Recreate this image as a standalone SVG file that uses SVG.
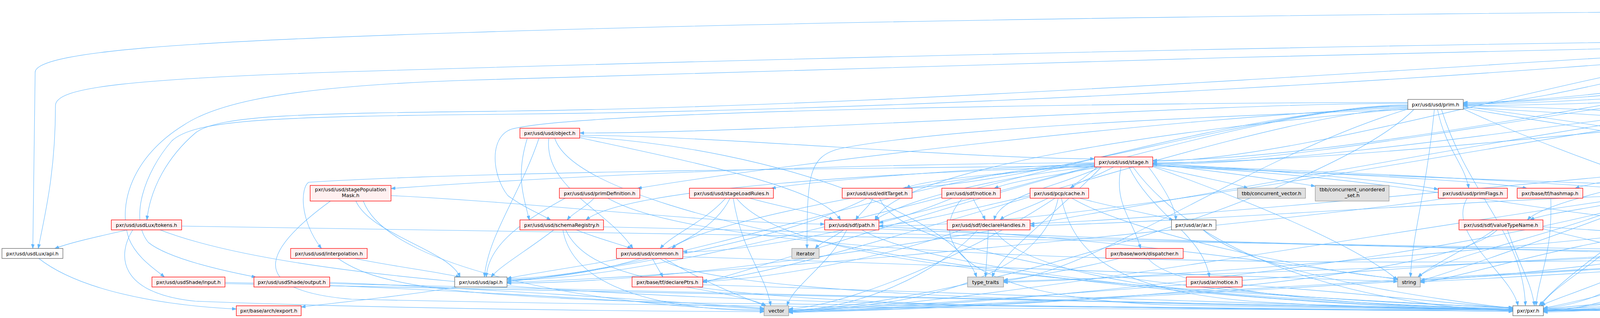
<svg xmlns="http://www.w3.org/2000/svg" width="6797" height="813" viewBox="0 0 6797 813">
<defs>
<marker id="a" viewBox="0 0 11 8" refX="11" refY="4" markerWidth="11" markerHeight="8" markerUnits="userSpaceOnUse" orient="auto"><path d="M0,0 L11,4 L0,8 z" fill="#63b8ff" stroke="#63b8ff" stroke-width="0.8"/></marker>
</defs>
<style>
.e{fill:none;stroke:#63b8ff;stroke-width:1.1;marker-end:url(#a)}
.r{fill:#fff0f0;stroke:#ff0000;stroke-width:1.3}
.w{fill:#ffffff;stroke:#666666;stroke-width:1.3}
.g{fill:#e0e0e0;stroke:#999999;stroke-width:1.3}
.root{fill:#999999;stroke:#666666;stroke-width:1.3}
text{font-family:"DejaVu Sans","Liberation Sans",sans-serif;font-size:12.8px;text-anchor:middle;fill:#000000}
</style>
<rect x="0" y="0" width="6797" height="813" fill="#ffffff"/>
<g id="edges">
<path class="e" d="M5763,30 C5544,30 5105,100 4886,100"/>
<path class="e" d="M5875,45.5 C5875,106 5967,106 5967,166.5"/>
<path class="e" d="M5763,20 C4500,26 2500,40 1200,83 C500,105 90,130 90,185 L84,635.5"/>
<path class="e" d="M5763,34 C5259,34 4250,262 3746,262"/>
<path class="e" d="M5763,38 C5060,38 3654,410 2951,410"/>
<path class="e" d="M5763,42 C5441,42 4798,571 4476,571"/>
<path class="e" d="M5930,45.5 C5930,304 6125,304 6125,562.5"/>
<path class="e" d="M5960,28 C6300,40 6650,70 6680,200 C6700,320 6500,600 6274,648"/>
<path class="e" d="M5960,32 C6400,45 6740,90 6740,250 C6740,500 6650,690 6215,721"/>
<path class="e" d="M5850,45.5 C5850,340 4965,340 4965,635.5"/>
<path class="e" d="M5763,44 C5401,44 4678,652 4316,652"/>
<path class="e" d="M5960,40 C6500,60 6790,100 6790,300 C6790,700 6700,740 6300,760 C5500,790 4500,794 3951,794"/>
<path class="e" d="M4691,102 C3500,112 2000,150 1000,180 C300,200 142,225 142,270 C142,450 112,560 98,635.5"/>
<path class="e" d="M4822,118.5 C4822,146 4975,146 4975,174"/>
<path class="e" d="M4875,118.5 C5000,135 5200,160 5310,174"/>
<path class="e" d="M4691,108 C4455,108 3982,268 3746,268"/>
<path class="e" d="M4691,110 C4256,110 3386,412 2951,412"/>
<path class="e" d="M4691,114 C3800,160 2400,270 1300,284 C800,290 560,292 500,340 C430,400 385,480 376,562.5"/>
<path class="e" d="M4691,111 C3600,130 2200,175 1200,205 C750,220 560,260 470,320 C340,400 300,520 330,610 C350,660 400,690 421,708.5"/>
<path class="e" d="M4691,116 C3900,190 2500,280 1300,292 C700,298 500,305 440,360 C370,440 330,560 380,620 C430,660 560,690 655,708.5"/>
<path class="e" d="M4765,118.5 C4700,250 4460,420 4440,562.5"/>
<path class="e" d="M4886,108 C5300,110 5700,115 5900,140 C6160,170 6180,250 6180,350 C6180,450 6140,500 6128,562.5"/>
<path class="e" d="M4886,111 C5600,115 6000,130 6100,230 C6200,330 6240,500 6240,635.5"/>
<path class="e" d="M4886,114 C5700,125 6300,140 6420,300 C6520,430 6500,650 6215,716"/>
<path class="e" d="M4800,118.5 C4800,377 4930,377 4930,635.5"/>
<path class="e" d="M4740,118.5 C4700,300 4300,450 4290,635.5"/>
<path class="e" d="M4760,118.5 C4600,350 4100,600 3940,781.5"/>
<path class="e" d="M5882,192 C5348,192 4280,270 3746,270"/>
<path class="e" d="M5882,196 C5149,196 3684,416 2951,416"/>
<path class="e" d="M5882,200 C5531,200 4827,578 4476,578"/>
<path class="e" d="M6000,206.5 C6000,385 6110,385 6110,562.5"/>
<path class="e" d="M6050,206.5 C6180,320 6260,450 6250,635.5"/>
<path class="e" d="M6075,206.5 C6350,300 6330,650 6215,726"/>
<path class="e" d="M5930,206.5 C5800,350 5100,500 4975,635.5"/>
<path class="e" d="M5900,206.5 C5600,350 4400,550 4305,635.5"/>
<path class="e" d="M5960,206.5 C5900,500 5000,700 3951,790"/>
<path class="e" d="M4908,184 C4617,184 4036,264 3746,264"/>
<path class="e" d="M4908,188 C4419,188 3440,418 2951,418"/>
<path class="e" d="M4950,199 C4800,350 4470,450 4460,562.5"/>
<path class="e" d="M5080,199 C5400,350 6000,450 6070,562.5"/>
<path class="e" d="M5100,199 C5500,380 6100,500 6150,635.5"/>
<path class="e" d="M5110,199 C5400,450 6000,650 6090,708.5"/>
<path class="e" d="M5017,199 C5017,450 4940,450 4940,635.5"/>
<path class="e" d="M4980,199 C4900,350 4350,500 4300,635.5"/>
<path class="e" d="M4990,199 C4800,500 4400,700 3951,788"/>
<path class="e" d="M5299,192 C4299,192 2298,724 1298,724"/>
<path class="e" d="M5299,184 C4911,184 4134,266 3746,266"/>
<path class="e" d="M5299,188 C4712,188 3538,420 2951,420"/>
<path class="e" d="M5330,199 C5100,400 4600,560 4476,582"/>
<path class="e" d="M5420,199 C5700,300 6050,450 6080,562.5"/>
<path class="e" d="M5440,199 C5800,350 6150,500 6170,635.5"/>
<path class="e" d="M5470,199 C5700,400 6050,650 6110,708.5"/>
<path class="e" d="M5350,199 C5300,450 5050,620 4985,645"/>
<path class="e" d="M5320,199 C5000,400 4400,600 4316,645"/>
<path class="e" d="M5299,196 C4537,196 3012,578 2250,578"/>
<path class="e" d="M5380,199 C5200,600 4500,780 3951,796"/>
<path class="e" d="M3672,279.5 C3650,500 3615,600 3611,708.5"/>
<path class="e" d="M3680,279.5 C3700,380 3750,420 3760,481.5"/>
<path class="e" d="M3604,272 C3028,272 1874,716 1298,716"/>
<path class="e" d="M3604,270 C3140,270 2212,644 1748,644"/>
<path class="e" d="M3604,268 C3287,268 2652,470 2310,481.5"/>
<path class="e" d="M3604,264 C3074,264 2014,340 1484,340"/>
<path class="e" d="M3604,262 C3000,262 1500,280 1310,330 C1250,350 1260,450 1300,500 C1340,530 1380,545 1410,562.5"/>
<path class="e" d="M3604,274 C3000,300 2000,420 1632,481.5"/>
<path class="e" d="M3746,276 C4000,320 4350,370 4460,401.5"/>
<path class="e" d="M3746,274 C4200,300 4700,330 4900,360 C4980,375 5030,390 5040,401.5"/>
<path class="e" d="M3604,276 C3200,290 2100,700 1799,718"/>
<path class="e" d="M3746,270 C4200,280 4600,310 4820,335"/>
<path class="e" d="M3746,278 C4000,400 4600,600 4840,644"/>
<path class="e" d="M3746,272 C4100,320 4500,380 4620,430 C4700,460 4740,475 4760,481.5"/>
<path class="e" d="M3604,278 C3000,330 2300,430 2240,562.5"/>
<path class="e" d="M3604,279 C3200,400 2800,700 2569,718"/>
<path class="e" d="M3620,279.5 C3400,500 2400,790 2019,792"/>
<path class="e" d="M3690,279.5 C3760,500 3900,600 3905,781.5"/>
<path class="e" d="M3604,280 C3000,300 2400,330 2150,380 C2070,400 2066,450 2066,635.5"/>
<path class="e" d="M1484,346 C1813,346 2472,406 2802,406"/>
<path class="e" d="M1380,353 C1330,500 1250,600 1240,708.5"/>
<path class="e" d="M1405,353 C1390,480 1560,540 1620,635.5"/>
<path class="e" d="M1350,353 C1320,450 1340,500 1355,562.5"/>
<path class="e" d="M1484,352 C1800,420 2100,480 2152,562.5"/>
<path class="e" d="M1484,349 C2000,380 2450,560 2500,708.5"/>
<path class="e" d="M1420,353 C1500,600 3000,780 3873,792"/>
<path class="e" d="M4900,353 C4850,600 4300,780 3951,792"/>
<path class="e" d="M2802,418 C2426,418 1674,712 1298,712"/>
<path class="e" d="M2802,420 C2500,440 1800,560 1720,635.5"/>
<path class="e" d="M2802,422 C2600,440 2350,460 2320,481.5"/>
<path class="e" d="M2802,424 C2000,432 1200,440 790,466 C770,480 765,560 823,635.5"/>
<path class="e" d="M2802,416 C2000,420 1300,460 1001,482"/>
<path class="e" d="M2802,426 C2300,440 1600,480 1500,562.5"/>
<path class="e" d="M2802,419 C2500,430 2100,460 1975,481.5"/>
<path class="e" d="M2951,418 C3200,430 3550,460 3682,484"/>
<path class="e" d="M2802,426 C2500,500 1900,700 1799,722"/>
<path class="e" d="M2951,421 C3300,440 3800,460 3909,481.5"/>
<path class="e" d="M2951,424 C3500,450 4400,480 4704,488"/>
<path class="e" d="M2940,426.5 C2980,480 3010,530 3010,562.5"/>
<path class="e" d="M2890,426.5 C2950,550 3080,600 3096,708.5"/>
<path class="e" d="M2820,426.5 C2700,480 2560,500 2545,562.5"/>
<path class="e" d="M2815,426.5 C2700,450 2600,460 2545,481.5"/>
<path class="e" d="M2802,425 C2500,460 2300,520 2240,562.5"/>
<path class="e" d="M2951,422 C3500,440 4000,470 4178,484"/>
<path class="e" d="M2851,426.5 C2810,450 2760,465 2740,481.5"/>
<path class="e" d="M2951,424 C3600,450 4000,560 4330,572"/>
<path class="e" d="M2870,426.5 C2850,520 2900,560 2920,635.5"/>
<path class="e" d="M2951,424 C3050,450 3150,465 3195,481.5"/>
<path class="e" d="M2951,420 C3150,440 3300,465 3367,476"/>
<path class="e" d="M2951,426 C3300,550 3500,650 3578,716"/>
<path class="e" d="M2820,426.5 C2700,550 2560,650 2540,708.5"/>
<path class="e" d="M2810,426.5 C2600,600 2200,780 2019,790"/>
<path class="e" d="M2900,426.5 C3100,700 3600,790 3873,794"/>
<path class="e" d="M4487,426.5 C4420,450 4320,465 4296,481.5"/>
<path class="e" d="M4450,422 C4200,460 3950,520 3910,562.5"/>
<path class="e" d="M4450,418 C4250,440 4080,465 4032,481.5"/>
<path class="e" d="M4521,426.5 C4500,480 4440,520 4418,562.5"/>
<path class="e" d="M4535,426.5 C4560,550 4450,640 4316,644"/>
<path class="e" d="M4612,422 C4800,500 4880,560 4880,635.5"/>
<path class="e" d="M4612,418 C4700,440 4760,460 4770,481.5"/>
<path class="e" d="M4450,425 C4000,600 3700,700 3636,718"/>
<path class="e" d="M4460,426.5 C4000,650 2500,790 2019,796"/>
<path class="e" d="M4500,426.5 C4400,650 4000,750 3945,781.5"/>
<path class="e" d="M4450,420 C3800,480 3000,560 2637,572"/>
<path class="e" d="M5080,426.5 C5100,600 4500,790 3951,798"/>
<path class="e" d="M911,514 C950,600 1150,640 1178,708.5"/>
<path class="e" d="M1001,500 C1400,520 1800,570 2111,573"/>
<path class="e" d="M846,514 C700,620 600,740 900,765 C2000,790 3200,792 3873,792"/>
<path class="e" d="M930,514 C1000,700 1600,790 1956,792"/>
<path class="e" d="M1447,506.5 C1350,560 1250,620 1245,708.5"/>
<path class="e" d="M1521,506.5 C1500,530 1465,545 1452,562.5"/>
<path class="e" d="M1556,506.5 C1800,650 3000,700 4840,652"/>
<path class="e" d="M1858,506.5 C1800,570 1720,600 1690,635.5"/>
<path class="e" d="M1869,506.5 C1800,650 1500,710 1298,716"/>
<path class="e" d="M1919,506.5 C2000,530 2100,545 2133,562.5"/>
<path class="e" d="M1877,506.5 C1900,650 1960,700 1973,781.5"/>
<path class="e" d="M1885,506.5 C2000,650 2500,720 3873,788"/>
<path class="e" d="M2220,506.5 C2000,620 1500,700 1298,720"/>
<path class="e" d="M2235,506.5 C2225,530 2200,545 2191,562.5"/>
<path class="e" d="M2252,506.5 C2300,650 3000,760 3873,786"/>
<path class="e" d="M2491,506.5 C2500,530 2515,545 2522,562.5"/>
<path class="e" d="M2438,506.5 C2380,530 2300,560 2250,570"/>
<path class="e" d="M2464,506.5 C2380,600 2420,760 3000,780 C3500,790 3800,792 3873,792"/>
<path class="e" d="M2683,506.5 C2640,530 2580,545 2560,562.5"/>
<path class="e" d="M2763,506.5 C2850,530 2960,550 3004,562.5"/>
<path class="e" d="M2637,500 C2500,530 2350,570 2250,578"/>
<path class="e" d="M2709,506.5 C2680,650 2500,780 2019,794"/>
<path class="e" d="M2717,506.5 C2750,650 2850,740 3200,770 C3500,790 3800,792 3873,792"/>
<path class="e" d="M2744,506.5 C2900,600 3400,700 3578,712"/>
<path class="e" d="M3703,506.5 C3500,540 2000,700 1298,722"/>
<path class="e" d="M3756,506.5 C3700,600 3870,700 3886,781.5"/>
<path class="e" d="M3970,506.5 C3975,650 3940,700 3932,781.5"/>
<path class="e" d="M4188,506.5 C4100,530 3950,545 3917,562.5"/>
<path class="e" d="M4275,506.5 C4310,530 4360,545 4380,562.5"/>
<path class="e" d="M4242,506.5 C4225,560 4225,600 4227,635.5"/>
<path class="e" d="M4208,506.5 C4000,600 3700,650 3630,708.5"/>
<path class="e" d="M4230,506.5 C4150,650 3980,720 3945,781.5"/>
<path class="e" d="M4178,500 C3800,510 3000,570 2637,577"/>
<path class="e" d="M4325,500 C4600,560 4800,620 4850,635.5"/>
<path class="e" d="M4178,504 C3500,600 2500,780 2019,797"/>
<path class="e" d="M4325,497 C5000,520 5800,560 6018,575"/>
<path class="e" d="M4325,502 C5000,560 5800,640 6123,648"/>
<path class="e" d="M4320,506.5 C5000,650 5800,720 6068,722"/>
<path class="e" d="M4830,506.5 C4950,650 4500,780 3951,790"/>
<path class="e" d="M327,587.5 C250,605 180,620 140,635.5"/>
<path class="e" d="M465,578 C1500,585 3800,640 4840,648"/>
<path class="e" d="M340,587.5 C300,650 300,750 500,770 C1000,790 1700,796 1956,797"/>
<path class="e" d="M409,587.5 C700,700 1400,760 2500,780 C3200,790 3700,794 3873,796"/>
<path class="e" d="M1418,587.5 C1350,640 1280,680 1257,708.5"/>
<path class="e" d="M1475,587.5 C1530,610 1590,625 1617,635.5"/>
<path class="e" d="M1441,587.5 C1460,700 1600,790 1956,795"/>
<path class="e" d="M1448,587.5 C1500,700 1700,760 2500,780 C3200,792 3700,795 3873,795"/>
<path class="e" d="M1545,580 C2500,600 3800,640 4178,646"/>
<path class="e" d="M2160,587.5 C2130,610 2100,620 2087,635.5"/>
<path class="e" d="M2168,587.5 C2120,680 2030,730 2015,781.5"/>
<path class="e" d="M2206,587.5 C2400,700 3200,770 3873,790"/>
<path class="e" d="M2250,580 C2800,600 3400,690 3578,714"/>
<path class="e" d="M2250,585 C3000,620 4300,650 4840,650"/>
<path class="e" d="M2530,587.5 C2528,640 2525,670 2523,708.5"/>
<path class="e" d="M2461,587.5 C2300,650 2000,710 1799,720"/>
<path class="e" d="M2503,587.5 C2400,700 2200,790 2019,795"/>
<path class="e" d="M2545,587.5 C2620,700 3000,770 3873,790"/>
<path class="e" d="M3080,587.5 C3200,700 3700,770 3873,788"/>
<path class="e" d="M3825,587.5 C3750,640 3660,680 3630,708.5"/>
<path class="e" d="M3859,587.5 C3890,680 3920,720 3928,781.5"/>
<path class="e" d="M3833,587.5 C3700,720 2600,790 2019,798"/>
<path class="e" d="M3950,580 C4300,600 4700,640 4840,646"/>
<path class="e" d="M3950,585 C4050,610 4150,630 4178,642"/>
<path class="e" d="M4376,587.5 C4340,610 4290,620 4276,635.5"/>
<path class="e" d="M4391,587.5 C4300,720 4100,790 3951,796"/>
<path class="e" d="M4330,583 C4000,620 3750,710 3636,722"/>
<path class="e" d="M4476,580 C4700,600 4800,625 4850,635.5"/>
<path class="e" d="M4330,585 C3800,640 3000,710 2569,722"/>
<path class="e" d="M6117,587.5 C6140,610 6170,620 6183,635.5"/>
<path class="e" d="M6090,587.5 C6000,700 5500,770 4500,785 C4200,790 4000,794 3951,794"/>
<path class="e" d="M6018,582 C5000,620 3000,770 2019,799"/>
<path class="e" d="M907,660.5 C1000,680 1120,695 1178,708.5"/>
<path class="e" d="M865,660.5 C950,720 1100,760 1800,775 C2800,790 3600,794 3873,796"/>
<path class="e" d="M1590,660.5 C1500,680 1350,700 1298,712"/>
<path class="e" d="M1670,660.5 C1680,680 1690,695 1697,708.5"/>
<path class="e" d="M1689,660.5 C1800,740 2500,775 3873,792"/>
<path class="e" d="M1748,656 C2500,680 3300,710 3578,720"/>
<path class="e" d="M1700,660.5 C1800,720 1900,760 1960,781.5"/>
<path class="e" d="M2866,660.5 C2750,690 2620,710 2569,716"/>
<path class="e" d="M2939,660.5 C3000,740 3400,780 3873,790"/>
<path class="e" d="M4208,660.5 C4000,690 3750,712 3636,717"/>
<path class="e" d="M4238,660.5 C4150,740 4050,780 3951,788"/>
<path class="e" d="M4178,653 C3500,680 2500,780 2019,794"/>
<path class="e" d="M4178,656 C3700,680 2900,710 2569,720"/>
<path class="e" d="M4860,660.5 C4600,760 4200,790 3951,792"/>
<path class="e" d="M4840,656 C4300,680 3800,715 3636,720"/>
<path class="e" d="M4840,652 C4000,680 2700,780 2019,796"/>
<path class="e" d="M6170,660.5 C6160,680 6150,695 6144,708.5"/>
<path class="e" d="M6209,660.5 C6240,700 6250,740 6100,748 C5500,770 4500,790 3951,795"/>
<path class="e" d="M6159,708.5 C6170,690 6185,675 6194,660.5"/>
<path class="e" d="M6068,728 C5500,750 4500,785 3951,793"/>
<path class="e" d="M576,725 C1500,740 3000,780 3873,792"/>
<path class="e" d="M576,722 C1000,730 1600,770 1956,790"/>
<path class="e" d="M844,725 C1800,745 3200,785 3873,793"/>
<path class="e" d="M844,722 C1200,735 1700,770 1956,788"/>
<path class="e" d="M1170,733.5 C1050,755 850,775 771,785"/>
<path class="e" d="M99,660.5 C200,740 400,780 605,790"/>
<path class="e" d="M1755,733.5 C1850,750 1930,765 1961,781.5"/>
<path class="e" d="M1799,728 C2500,750 3400,785 3873,790"/>
<path class="e" d="M3180,728 C3500,750 3750,780 3873,788"/>
</g>
<g id="n_root"><rect class="root" x="5763" y="5.5" width="197" height="40"/><text x="5861.5" y="20.7">pxr/usd/usdLux/pluginLight</text><text x="5861.5" y="35.7">Filter.h</text></g>
<g id="n_lightFilter"><rect class="w" x="4691" y="93.25" width="195" height="25.5"/><text x="4788.5" y="110.7">pxr/usd/usdLux/lightFilter.h</text></g>
<g id="n_nodeDefAPI"><rect class="r" x="5882" y="166.5" width="196" height="40"/><text x="5980" y="181.7">pxr/usd/usdShade/nodeDef</text><text x="5980" y="196.7">API.h</text></g>
<g id="n_xformable"><rect class="r" x="4908" y="173.75" width="218" height="25.5"/><text x="5017" y="191.2">pxr/usd/usdGeom/xformable.h</text></g>
<g id="n_collectionAPI"><rect class="r" x="5299" y="173.75" width="197" height="25.5"/><text x="5397.5" y="191.2">pxr/usd/usd/collectionAPI.h</text></g>
<g id="n_prim"><rect class="w" x="3604" y="254.25" width="142" height="25.5"/><text x="3675" y="271.7">pxr/usd/usd/prim.h</text></g>
<g id="n_object"><rect class="r" x="1331" y="327.75" width="153" height="25.5"/><text x="1407.5" y="345.2">pxr/usd/usd/object.h</text></g>
<g id="n_refBase"><rect class="r" x="4820" y="327.75" width="160" height="25.5"/><text x="4900" y="345.2">pxr/base/tf/refBase.h</text></g>
<g id="n_stage"><rect class="r" x="2802" y="401.25" width="149" height="25.5"/><text x="2876.5" y="418.7">pxr/usd/usd/stage.h</text></g>
<g id="n_schema"><rect class="r" x="4450" y="401.25" width="162" height="25.5"/><text x="4531" y="418.7">pxr/usd/sdf/schema.h</text></g>
<g id="n_trace"><rect class="r" x="5019" y="401.25" width="163" height="25.5"/><text x="5100.5" y="418.7">pxr/base/trace/trace.h</text></g>
<g id="n_stagePopulationMask"><rect class="r" x="794" y="474" width="207" height="40"/><text x="897.5" y="489.2">pxr/usd/usd/stagePopulation</text><text x="897.5" y="504.2">Mask.h</text></g>
<g id="n_primDefinition"><rect class="r" x="1432" y="481.25" width="206" height="25.5"/><text x="1535" y="498.7">pxr/usd/usd/primDefinition.h</text></g>
<g id="n_stageLoadRules"><rect class="r" x="1765" y="481.25" width="215" height="25.5"/><text x="1872.5" y="498.7">pxr/usd/usd/stageLoadRules.h</text></g>
<g id="n_editTarget"><rect class="r" x="2156" y="481.25" width="179" height="25.5"/><text x="2245.5" y="498.7">pxr/usd/usd/editTarget.h</text></g>
<g id="n_sdfNotice"><rect class="r" x="2411" y="481.25" width="150" height="25.5"/><text x="2486" y="498.7">pxr/usd/sdf/notice.h</text></g>
<g id="n_pcpCache"><rect class="r" x="2637" y="481.25" width="150" height="25.5"/><text x="2712" y="498.7">pxr/usd/pcp/cache.h</text></g>
<g id="n_tbbVector"><rect class="g" x="3168" y="481.25" width="174" height="25.5"/><text x="3255" y="498.7">tbb/concurrent_vector.h</text></g>
<g id="n_tbbSet"><rect class="g" x="3367" y="474" width="189" height="40"/><text x="3461.5" y="489.2">tbb/concurrent_unordered</text><text x="3461.5" y="504.2">_set.h</text></g>
<g id="n_primFlags"><rect class="r" x="3682" y="481.25" width="177" height="25.5"/><text x="3770.5" y="498.7">pxr/usd/usd/primFlags.h</text></g>
<g id="n_hashmap"><rect class="r" x="3884" y="481.25" width="168" height="25.5"/><text x="3968" y="498.7">pxr/base/tf/hashmap.h</text></g>
<g id="n_sdfTypes"><rect class="r" x="4178" y="481.25" width="147" height="25.5"/><text x="4251.5" y="498.7">pxr/usd/sdf/types.h</text></g>
<g id="n_weakBase"><rect class="r" x="4704" y="481.25" width="175" height="25.5"/><text x="4791.5" y="498.7">pxr/base/tf/weakBase.h</text></g>
<g id="n_luxTokens"><rect class="r" x="285" y="562.25" width="180" height="25.5"/><text x="375" y="579.7">pxr/usd/usdLux/tokens.h</text></g>
<g id="n_schemaRegistry"><rect class="r" x="1331" y="562.25" width="214" height="25.5"/><text x="1438" y="579.7">pxr/usd/usd/schemaRegistry.h</text></g>
<g id="n_sdfPath"><rect class="r" x="2111" y="562.25" width="139" height="25.5"/><text x="2180.5" y="579.7">pxr/usd/sdf/path.h</text></g>
<g id="n_declareHandles"><rect class="r" x="2425" y="562.25" width="212" height="25.5"/><text x="2531" y="579.7">pxr/usd/sdf/declareHandles.h</text></g>
<g id="n_arAr"><rect class="w" x="2999" y="562.25" width="114" height="25.5"/><text x="3056" y="579.7">pxr/usd/ar/ar.h</text></g>
<g id="n_valueTypeName"><rect class="r" x="3735" y="562.25" width="215" height="25.5"/><text x="3842.5" y="579.7">pxr/usd/sdf/valueTypeName.h</text></g>
<g id="n_vtValue"><rect class="r" x="4330" y="562.25" width="146" height="25.5"/><text x="4403" y="579.7">pxr/base/vt/value.h</text></g>
<g id="n_matrix4d"><rect class="r" x="6018" y="562.25" width="170" height="25.5"/><text x="6103" y="579.7">pxr/base/gf/matrix4d.h</text></g>
<g id="n_luxApi"><rect class="w" x="5" y="635.25" width="156" height="25.5"/><text x="83" y="652.7">pxr/usd/usdLux/api.h</text></g>
<g id="n_interpolation"><rect class="r" x="744" y="635.25" width="196" height="25.5"/><text x="842" y="652.7">pxr/usd/usd/interpolation.h</text></g>
<g id="n_common"><rect class="r" x="1578" y="635.25" width="170" height="25.5"/><text x="1663" y="652.7">pxr/usd/usd/common.h</text></g>
<g id="n_iterator"><rect class="g" x="2027" y="635.25" width="70" height="25.5"/><text x="2062" y="652.7">iterator</text></g>
<g id="n_dispatcher"><rect class="r" x="2831" y="635.25" width="198" height="25.5"/><text x="2930" y="652.7">pxr/base/work/dispatcher.h</text></g>
<g id="n_tfType"><rect class="r" x="4178" y="635.25" width="138" height="25.5"/><text x="4247" y="652.7">pxr/base/tf/type.h</text></g>
<g id="n_tfToken"><rect class="r" x="4840" y="635.25" width="145" height="25.5"/><text x="4912.5" y="652.7">pxr/base/tf/token.h</text></g>
<g id="n_vec3d"><rect class="r" x="6123" y="635.25" width="151" height="25.5"/><text x="6198.5" y="652.7">pxr/base/gf/vec3d.h</text></g>
<g id="n_input"><rect class="r" x="389" y="708.25" width="187" height="25.5"/><text x="482.5" y="725.7">pxr/usd/usdShade/input.h</text></g>
<g id="n_output"><rect class="r" x="650" y="708.25" width="194" height="25.5"/><text x="747" y="725.7">pxr/usd/usdShade/output.h</text></g>
<g id="n_usdApi"><rect class="w" x="1164" y="708.25" width="134" height="25.5"/><text x="1231" y="725.7">pxr/usd/usd/api.h</text></g>
<g id="n_declarePtrs"><rect class="r" x="1618" y="708.25" width="181" height="25.5"/><text x="1708.5" y="725.7">pxr/base/tf/declarePtrs.h</text></g>
<g id="n_typeTraits"><rect class="g" x="2477" y="708.25" width="92" height="25.5"/><text x="2523" y="725.7">type_traits</text></g>
<g id="n_arNotice"><rect class="r" x="3037" y="708.25" width="143" height="25.5"/><text x="3108.5" y="725.7">pxr/usd/ar/notice.h</text></g>
<g id="n_string"><rect class="g" x="3578" y="708.25" width="58" height="25.5"/><text x="3607" y="725.7">string</text></g>
<g id="n_vec3f"><rect class="r" x="6068" y="708.25" width="147" height="25.5"/><text x="6141.5" y="725.7">pxr/base/gf/vec3f.h</text></g>
<g id="n_export"><rect class="r" x="605" y="781.75" width="166" height="25.5"/><text x="688" y="799.2">pxr/base/arch/export.h</text></g>
<g id="n_vector"><rect class="g" x="1956" y="781.75" width="63" height="25.5"/><text x="1987.5" y="799.2">vector</text></g>
<g id="n_pxr"><rect class="w" x="3873" y="781.75" width="78" height="25.5"/><text x="3912" y="799.2">pxr/pxr.h</text></g>
</svg>
